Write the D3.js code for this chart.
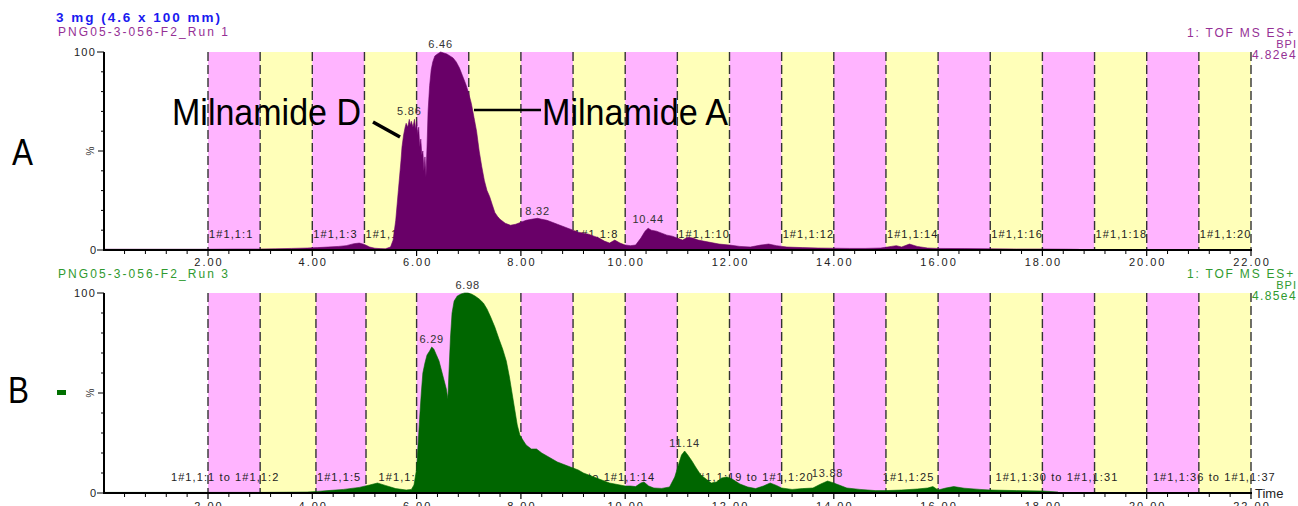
<!DOCTYPE html>
<html><head><meta charset="utf-8">
<script src="https://cdn.jsdelivr.net/npm/d3@7"></script>
<style>
body{margin:0;background:#fff}
svg{display:block}
text{font-family:"Liberation Sans",Arial,sans-serif}
</style>
</head><body>
<svg id="c" width="1298" height="506"></svg>
<script>
// ---------- DATA ----------
const timeA  = [0,0.5,1,1.5,2,2.5,3,3.3,3.6,3.9,4.1,4.3,4.5,4.65,4.8,4.9,5.0,5.1,5.2,5.3,5.4,5.5,5.55,5.6,5.65,5.7,5.72,5.75,5.78,5.8,5.83,5.86,5.88,5.9,5.93,5.96,5.98,6.0,6.02,6.04,6.06,6.08,6.1,6.12,6.14,6.16,6.18,6.2,6.22,6.25,6.28,6.31,6.35,6.4,6.46,6.52,6.58,6.64,6.7,6.76,6.82,6.88,6.94,7.0,7.05,7.1,7.15,7.2,7.25,7.3,7.35,7.4,7.45,7.5,7.55,7.6,7.7,7.8,7.9,8.0,8.1,8.2,8.32,8.4,8.5,8.6,8.7,8.8,8.9,9.0,9.1,9.2,9.3,9.4,9.5,9.6,9.7,9.8,9.9,10.0,10.1,10.2,10.3,10.38,10.44,10.5,10.6,10.7,10.8,10.9,11.0,11.1,11.2,11.3,11.4,11.5,11.6,11.8,12.0,12.2,12.4,12.6,12.75,12.9,13.1,13.4,13.7,14.0,14.3,14.6,14.9,15.1,15.2,15.3,15.45,15.6,15.8,16.0,16.5,17.0,17.5,18.0,18.5,18.7];
const valueA = [0.4,0.4,0.4,0.4,0.4,0.5,0.5,0.6,0.8,1.0,1.2,1.5,1.8,2.2,3.2,3.5,2.8,1.5,0.9,0.7,0.6,1.5,5,15,30,45,52,58,62,64,62,66,63,65,62,66,61,65,58,62,52,56,48,50,40,47,37,52,70,83,91,95,98,99,100,99.5,99,98,97,95,92,88,84,79,74,67,60,50,42,35,30,27,23,19,17,15.5,13.5,12.5,13,14,15,15.5,16,15.5,15,14,13,12,11,10,9,8.5,8,7,6,4.5,3.5,5,3.5,2.5,2.2,2.5,6,9.5,11,10,9.5,8.5,7.5,7,6,5,6.5,6,5,4.5,4,3,2.5,1.8,1.5,2.5,3,2.2,1.5,1.2,1.0,0.9,0.8,0.8,1.0,1.8,2.2,1.5,3,1.8,1.0,0.8,0.7,0.6,0.5,0.5,0.4,0.3];

const timeB  = [0,1,2,3,3.5,3.9,4.1,4.3,4.6,4.9,5.1,5.25,5.4,5.6,5.8,5.9,5.95,6.0,6.03,6.06,6.09,6.12,6.16,6.2,6.25,6.29,6.33,6.38,6.43,6.48,6.53,6.57,6.6,6.62,6.65,6.68,6.72,6.78,6.85,6.92,6.98,7.05,7.12,7.2,7.28,7.35,7.42,7.5,7.58,7.65,7.72,7.78,7.83,7.88,7.93,7.98,8.05,8.1,8.2,8.3,8.4,8.5,8.6,8.7,8.8,8.9,9.0,9.1,9.2,9.3,9.4,9.5,9.6,9.7,9.8,9.9,10.0,10.1,10.2,10.3,10.36,10.45,10.55,10.7,10.85,10.95,11.02,11.08,11.14,11.2,11.28,11.35,11.45,11.55,11.65,11.75,11.85,11.95,12.05,12.2,12.35,12.5,12.65,12.78,12.9,13.0,13.2,13.4,13.6,13.75,13.88,14.0,14.1,14.25,14.5,14.8,15.0,15.3,15.6,15.8,15.9,16.0,16.15,16.3,16.5,16.8,17.0,17.5,18.0,18.3];
const valueB = [0.3,0.3,0.3,0.3,0.4,0.5,0.8,1.2,1.8,2.8,4,5,3.8,2.2,1.5,1.8,4,12,25,38,50,60,65,69,71,73,72,69,66,61,56,52,47,60,78,90,96,98.5,99.5,100,100,99.5,98.5,97,95,92,88,83,77,72,66,58,50,42,34,29,26,24,22,22,20,18.5,17,15.5,14.5,13.5,12.5,11.5,10,9,8,7,6,5,4.5,4,3.5,3.5,3.2,5,5.5,3.5,2.5,2.3,3,8,14,19,21,19,16,13,9,7,5,5.5,7.5,8,7,4.5,3,2.2,3.5,5,3.8,2.5,1.8,2.2,2.5,4.5,6,5,4,2.5,1.8,1.2,1.2,1.5,2,2.5,3.2,1.5,2.5,3.2,2.4,1.8,1.5,1.2,1.0,0.5];

const bandEdgesA = [2,3,4,5,6,7,8,9,10,11,12,13,14,15,16,17,18,19,20,21,22];
const bandEdgesB = [2,3,4.07,5.03,6,7,8,9,10,11,12,13,14,15,16,17,18,19,20,21,22];

const fracTimesA  = [2,4,5,7,9,11,13,15,17,19,21];
const fracLabelsA = ["1#1,1:1","1#1,1:3","1#1,1:4","1#1,1:6","1#1,1:8","1#1,1:10","1#1,1:12","1#1,1:14","1#1,1:16","1#1,1:18","1#1,1:20"];
const fracTimesB  = [1.27,4.07,5.25,8.2,11.24,14.92,17.08,20.1];
const fracLabelsB = ["1#1,1:1 to 1#1,1:2","1#1,1:5","1#1,1:7 to 1#1,1:8","1#1,1:13 to 1#1,1:14","1#1,1:19 to 1#1,1:20","1#1,1:25","1#1,1:30 to 1#1,1:31","1#1,1:36 to 1#1,1:37"];

const peakTimesA  = [6.46,5.86,8.32,10.44];
const peakValuesA = [100,66,15.5,11.5];
const peakTimesB  = [6.98,6.29,11.14,13.88];
const peakValuesB = [100,73,21,6];

const xTickValues = [2,4,6,8,10,12,14,16,18,20,22];
const yTickValues = [0,10,20,30,40,50,60,70,80,90,100];

const titleText  = "3 mg (4.6 x 100 mm)";
const runNames   = ["PNG05-3-056-F2_Run 1","PNG05-3-056-F2_Run 3"];
const scaleNames = ["4.82e4","4.85e4"];
const panelLetters = ["A","B"];

// ---------- LAYOUT ----------
const svg = d3.select("#c");
const x = d3.scaleLinear().domain([0,22]).range([103.7,1251]);
const PINK="#ffb4ff", YELLOW="#ffffb9";

const panels = [
  {top:52, bot:250, times:timeA, values:valueA, edges:bandEdgesA, fT:fracTimesA, fL:fracLabelsA,
   pT:peakTimesA, pV:peakValuesA, fill:"#690068", txt:"#952f95", run:runNames[0], sc:scaleNames[0],
   runY:36, hdrY:37},
  {top:293, bot:493, times:timeB, values:valueB, edges:bandEdgesB, fT:fracTimesB, fL:fracLabelsB,
   pT:peakTimesB, pV:peakValuesB, fill:"#006600", txt:"#2f9a2f", run:runNames[1], sc:scaleNames[1],
   runY:278, hdrY:278}
];

panels.forEach((p,pi)=>{
  const y = d3.scaleLinear().domain([0,100]).range([p.bot,p.top]);
  const g = svg.append("g");

  // bands
  const bands = d3.pairs(p.edges);
  g.selectAll("rect.band").data(bands).join("rect")
    .attr("x",d=>x(d[0])).attr("width",d=>x(d[1])-x(d[0]))
    .attr("y",p.top).attr("height",p.bot-p.top)
    .attr("fill",(d,i)=>i%2===0?PINK:YELLOW);

  // fraction labels
  g.selectAll("text.frac").data(p.fT).join("text")
    .attr("x",d=>x(d)+1).attr("y",p.bot-12.5)
    .attr("font-size",11).attr("letter-spacing",1.1).attr("fill","#222")
    .text((d,i)=>p.fL[i]);

  // dashed lines
  g.selectAll("line.edge").data(p.edges).join("line")
    .attr("x1",d=>x(d)).attr("x2",d=>x(d))
    .attr("y1",p.top).attr("y2",p.bot)
    .attr("stroke","#333").attr("stroke-width",1.4).attr("stroke-dasharray","9,4");

  // chromatogram
  const data = p.times.map((t,i)=>({t, v:p.values[i]}));
  g.append("path").datum(data)
    .attr("d", d3.area().x(d=>x(d.t)).y0(y(0)).y1(d=>y(d.v)))
    .attr("fill",p.fill).attr("stroke",p.fill).attr("stroke-width",0.6);

  // y axis
  g.append("line").attr("x1",104).attr("x2",104).attr("y1",p.top).attr("y2",p.bot+1)
    .attr("stroke","#000").attr("stroke-width",2);
  g.selectAll("line.yt").data(yTickValues).join("line")
    .attr("x1",d=>(d===0||d===100)?97:(d===50?98:101)).attr("x2",104)
    .attr("y1",d=>y(d)).attr("y2",d=>y(d)).attr("stroke","#000").attr("stroke-width",1);
  g.append("text").attr("x",96).attr("y",y(100)+4).attr("text-anchor","end")
    .attr("font-size",11).attr("letter-spacing",1.2).attr("fill","#222").text("100");
  g.append("text").attr("x",96).attr("y",y(0)+4).attr("text-anchor","end")
    .attr("font-size",11).attr("fill","#222").text("0");
  g.append("text").attr("transform",`translate(94,${y(50)}) rotate(-90)`).attr("text-anchor","middle")
    .attr("font-size",10).attr("fill","#333").text("%");

  // x axis
  g.append("line").attr("x1",103).attr("x2",1252).attr("y1",p.bot).attr("y2",p.bot)
    .attr("stroke","#000").attr("stroke-width",2);
  const minor = d3.range(0.4,22.01,0.4).filter(t=>Math.abs(t/2-Math.round(t/2))>0.01);
  g.selectAll("line.xm").data(minor).join("line")
    .attr("x1",d=>x(d)).attr("x2",d=>x(d)).attr("y1",p.bot).attr("y2",p.bot+4)
    .attr("stroke","#000").attr("stroke-width",1);
  g.selectAll("line.xM").data(xTickValues).join("line")
    .attr("x1",d=>x(d)).attr("x2",d=>x(d)).attr("y1",p.bot).attr("y2",p.bot+6)
    .attr("stroke","#000").attr("stroke-width",1.2);
  g.selectAll("text.xl").data(xTickValues).join("text")
    .attr("x",d=>x(d)+1).attr("y",p.bot+(pi===0?16:17)).attr("text-anchor","middle")
    .attr("font-size",11).attr("letter-spacing",2).attr("fill","#222")
    .text(d=>d3.format(".2f")(d));

  // peak labels
  g.selectAll("text.pk").data(p.pT).join("text")
    .attr("x",d=>x(d)).attr("y",(d,i)=>y(p.pV[i])-4).attr("text-anchor","middle")
    .attr("font-size",11).attr("letter-spacing",0.8).attr("fill","#333")
    .text(d=>d3.format(".2f")(d));

  // headers
  g.append("text").attr("x",58).attr("y",p.runY).attr("font-size",12)
    .attr("textLength",170).attr("lengthAdjust","spacing").attr("fill",p.txt).text(p.run);
  g.append("text").attr("x",1295).attr("y",p.hdrY).attr("text-anchor","end").attr("font-size",12)
    .attr("letter-spacing",1.8).attr("fill",p.txt).text("1: TOF MS ES+");
  g.append("text").attr("x",1297).attr("y",p.hdrY+11).attr("text-anchor","end").attr("font-size",11)
    .attr("letter-spacing",1).attr("fill",p.txt).text("BPI");
  g.append("text").attr("x",1297).attr("y",p.hdrY+22).attr("text-anchor","end").attr("font-size",12)
    .attr("letter-spacing",1.4).attr("fill",p.txt).text(p.sc);

  // panel letter
  svg.append("text").attr("x",pi===0?12:8).attr("y",pi===0?165:403)
    .attr("font-size",36).attr("textLength",21).attr("lengthAdjust","spacingAndGlyphs")
    .attr("fill","#000").text(panelLetters[pi]);
});

// title
svg.append("text").attr("x",56).attr("y",22).attr("font-size",13.5).attr("font-weight","bold")
  .attr("textLength",164).attr("lengthAdjust","spacing").attr("fill","#1a1af0").text(titleText);

// "Time"
svg.append("text").attr("x",1255).attr("y",498).attr("font-size",13).attr("fill","#222").text("Time");

// green marker
svg.append("rect").attr("x",57).attr("y",390).attr("width",9).attr("height",5).attr("fill","#007000");

// annotations
svg.append("text").attr("x",172).attr("y",125).attr("font-size",37)
  .attr("textLength",189).attr("lengthAdjust","spacingAndGlyphs").attr("fill","#000").text("Milnamide D");
svg.append("line").attr("x1",373).attr("y1",122).attr("x2",400).attr("y2",137)
  .attr("stroke","#000").attr("stroke-width",3.5);
svg.append("text").attr("x",542).attr("y",125).attr("font-size",37)
  .attr("textLength",186).attr("lengthAdjust","spacingAndGlyphs").attr("fill","#000").text("Milnamide A");
svg.append("line").attr("x1",474).attr("y1",110).attr("x2",541).attr("y2",110)
  .attr("stroke","#000").attr("stroke-width",2.5);
</script>
</body></html>
